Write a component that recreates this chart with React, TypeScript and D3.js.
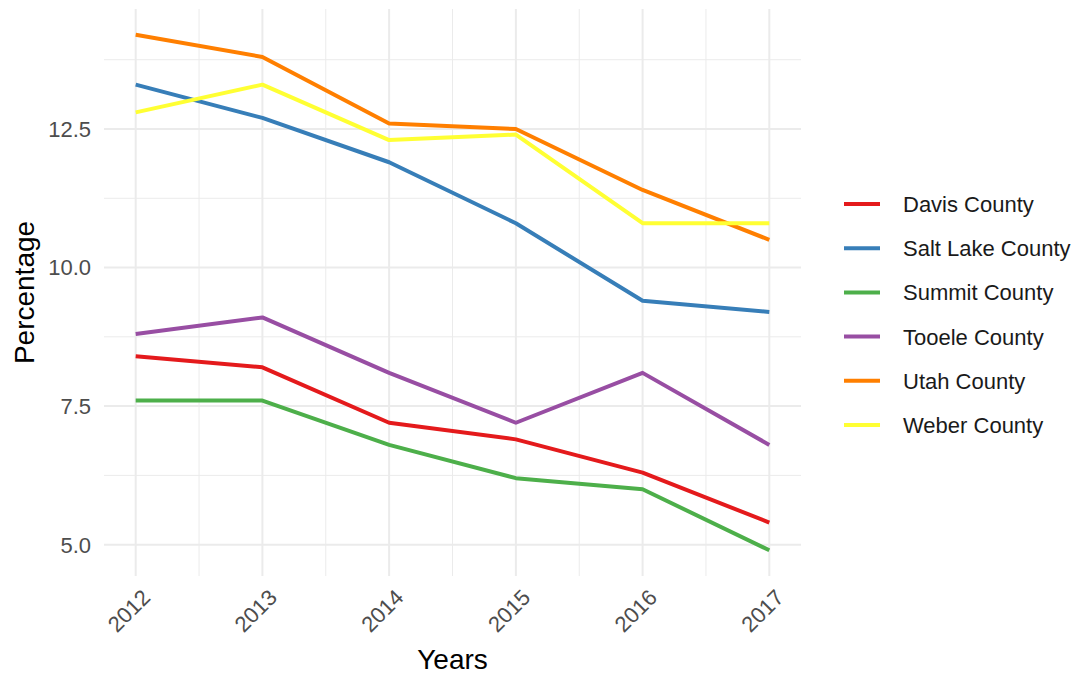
import React, { useEffect, useRef } from 'react';
import * as d3 from 'd3';

const years = [2012, 2013, 2014, 2015, 2016, 2017];
const counties = ['Davis County', 'Salt Lake County', 'Summit County', 'Tooele County', 'Utah County', 'Weber County'];
const colors = ['#E41A1C', '#377EB8', '#4DAF4A', '#984EA3', '#FF7F00', '#FFFF33'];

const davis = [8.4, 8.2, 7.2, 6.9, 6.3, 5.4];
const saltLake = [13.3, 12.7, 11.9, 10.8, 9.4, 9.2];
const summit = [7.6, 7.6, 6.8, 6.2, 6.0, 4.9];
const tooele = [8.8, 9.1, 8.1, 7.2, 8.1, 6.8];
const utah = [14.2, 13.8, 12.6, 12.5, 11.4, 10.5];
const weber = [12.8, 13.3, 12.3, 12.4, 10.8, 10.8];

const seriesValues = [davis, saltLake, summit, tooele, utah, weber];
const yTicks = [5.0, 7.5, 10.0, 12.5];
const yMinor = [6.25, 8.75, 11.25, 13.75];
const xMinor = [2012.5, 2013.5, 2014.5, 2015.5, 2016.5];

const FONT = '"Liberation Sans", Arial, sans-serif';

const App: React.FC = () => {
  const svgRef = useRef<SVGSVGElement>(null);

  useEffect(() => {
    if (!svgRef.current) return;
    const svg = d3.select(svgRef.current);
    svg.selectAll('*').remove();

    const panel = { left: 104, right: 801, top: 9, bottom: 576 };

    const allVals = seriesValues.flat();
    const yMin = d3.min(allVals)!;
    const yMax = d3.max(allVals)!;
    const yPad = (yMax - yMin) * 0.05;
    const xPad = (2017 - 2012) * 0.05;

    const x = d3.scaleLinear()
      .domain([2012 - xPad, 2017 + xPad])
      .range([panel.left, panel.right]);
    const y = d3.scaleLinear()
      .domain([yMin - yPad, yMax + yPad])
      .range([panel.bottom, panel.top]);

    const g = svg.append('g');

    // minor grid
    g.selectAll('.ymin').data(yMinor).enter().append('line')
      .attr('x1', panel.left).attr('x2', panel.right)
      .attr('y1', d => y(d)).attr('y2', d => y(d))
      .attr('stroke', '#ebebeb').attr('stroke-width', 1);
    g.selectAll('.xmin').data(xMinor).enter().append('line')
      .attr('y1', panel.top).attr('y2', panel.bottom)
      .attr('x1', d => x(d)).attr('x2', d => x(d))
      .attr('stroke', '#ebebeb').attr('stroke-width', 1);

    // major grid
    g.selectAll('.ymaj').data(yTicks).enter().append('line')
      .attr('x1', panel.left).attr('x2', panel.right)
      .attr('y1', d => y(d)).attr('y2', d => y(d))
      .attr('stroke', '#ebebeb').attr('stroke-width', 2);
    g.selectAll('.xmaj').data(years).enter().append('line')
      .attr('y1', panel.top).attr('y2', panel.bottom)
      .attr('x1', d => x(d)).attr('x2', d => x(d))
      .attr('stroke', '#ebebeb').attr('stroke-width', 2);

    // lines
    const line = d3.line<number>()
      .x((_, i) => x(years[i]))
      .y(d => y(d));

    seriesValues.forEach((vals, i) => {
      g.append('path')
        .datum(vals)
        .attr('fill', 'none')
        .attr('stroke', colors[i])
        .attr('stroke-width', 4)
        .attr('stroke-linejoin', 'round')
        .attr('d', line);
    });

    // y tick labels
    g.selectAll('.ylab').data(yTicks).enter().append('text')
      .attr('x', panel.left - 13)
      .attr('y', d => y(d))
      .attr('dy', '0.36em')
      .attr('text-anchor', 'end')
      .attr('fill', '#4d4d4d')
      .style('font-family', FONT)
      .style('font-size', '22px')
      .text(d => d.toFixed(1));

    // x tick labels
    g.selectAll('.xlab').data(years).enter().append('text')
      .attr('transform', d => `translate(${x(d) + 5},${panel.bottom + 12}) rotate(-45)`)
      .attr('text-anchor', 'end')
      .attr('dy', '0.7em')
      .attr('fill', '#4d4d4d')
      .style('font-family', FONT)
      .style('font-size', '22px')
      .text(d => String(d));

    // axis titles
    g.append('text')
      .attr('x', (panel.left + panel.right) / 2)
      .attr('y', 669)
      .attr('text-anchor', 'middle')
      .attr('fill', '#000')
      .style('font-family', FONT)
      .style('font-size', '28px')
      .text('Years');

    g.append('text')
      .attr('transform', `translate(34,${(panel.top + panel.bottom) / 2}) rotate(-90)`)
      .attr('text-anchor', 'middle')
      .attr('fill', '#000')
      .style('font-family', FONT)
      .style('font-size', '28px')
      .text('Percentage');

    // legend
    const legendY = d3.scalePoint<string>()
      .domain(counties)
      .range([204, 425]);

    const leg = g.append('g');
    counties.forEach((c, i) => {
      const ly = legendY(c)!;
      leg.append('line')
        .attr('x1', 844).attr('x2', 880)
        .attr('y1', ly).attr('y2', ly)
        .attr('stroke', colors[i])
        .attr('stroke-width', 4);
      leg.append('text')
        .attr('x', 903)
        .attr('y', ly)
        .attr('dy', '0.36em')
        .attr('fill', '#1a1a1a')
        .style('font-family', FONT)
        .style('font-size', '22px')
        .text(c);
    });
  }, []);

  return (
    <div style={{ position: 'absolute', left: 0, top: 0, width: 1080, height: 677, background: '#fff' }}>
      <svg ref={svgRef} width={1080} height={677} style={{ display: 'block' }} />
    </div>
  );
};

export default App;
